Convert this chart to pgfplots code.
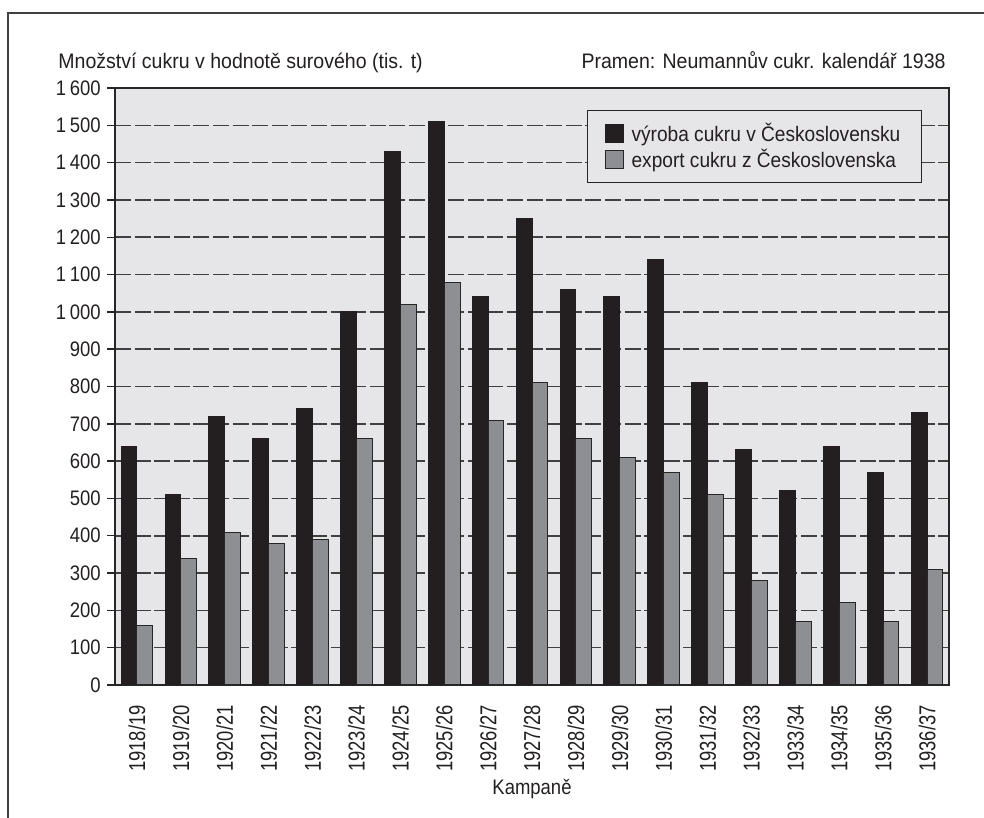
\documentclass[border=0pt]{standalone}
\usepackage{fontspec}
\setmainfont{Liberation Sans}[FakeStretch=0.88]
\newfontfamily\titlef{Liberation Sans}[FakeStretch=0.93]
\newfontfamily\narrowf{Liberation Sans}[FakeStretch=0.8]
\newfontfamily\legf{Liberation Sans}[FakeStretch=0.91]
\usepackage{pgfplots}
\pgfplotsset{compat=1.18}
\definecolor{bgg}{HTML}{E6E6E8}
\definecolor{blk}{HTML}{231F20}
\definecolor{gry}{HTML}{8E8F92}
\definecolor{txt}{HTML}{231F20}
\newcommand\ff{\fontsize{10.5pt}{12pt}\selectfont}
\begin{document}
\begin{tikzpicture}[font=\ff, text=txt]
\useasboundingbox (0,0) rectangle (492pt,409pt);
\draw[line width=0.7pt, black!75] (4pt,0) -- (4pt,402.5pt) -- (492pt,402.5pt);
\begin{axis}[
  at={(57.5pt,66.5pt)}, anchor=south west,
  scale only axis, width=417pt, height=298.5pt,
  xmin=-0.5, xmax=18.5, ymin=0, ymax=1600,
  ytick distance=100,
  xtick={0,...,18},
  xticklabels={1918/19,1919/20,1920/21,1921/22,1922/23,1923/24,1924/25,1925/26,1926/27,1927/28,1928/29,1929/30,1930/31,1931/32,1932/33,1933/34,1934/35,1935/36,1936/37},
  x tick label style={rotate=90, anchor=east, inner sep=0pt, xshift=-6pt, font=\narrowf\fontsize{11.5pt}{12pt}\selectfont},
  y tick label style={inner sep=0pt, xshift=-3pt},
  xtick style={draw=none},
  ytick pos=left, tick align=outside, major tick length=4pt,
  ytick style={line width=0.7pt, black!85},
  /pgf/number format/assume math mode=true,
  /pgf/number format/1000 sep={\,},
  axis background/.style={fill=bgg},
  axis line style={line width=0.8pt, black!85},
  ymajorgrids,
  grid style={line width=0.8pt, black!75, dash pattern=on 8pt off 1.8pt},
  ybar=0pt, bar width=0.36,
  xlabel={Kampaně},
  xlabel style={at={(0.5,0)}, anchor=base, yshift=-55pt},
  legend style={at={(1,1)}, xshift=-13.5pt, yshift=-11pt, anchor=north east,
    fill=bgg, draw=black!85, line width=0.7pt, font=\legf\ff,
    inner xsep=8.5pt, inner ysep=4pt, row sep=-1.5pt,
    /tikz/every odd column/.append style={column sep=2pt}},
  legend cell align=left,
  legend image code/.code={\draw[#1] (0pt,-4.5pt) rectangle (9pt,4.5pt);},
]
\addplot[fill=blk, draw=blk, line width=0.5pt] coordinates {
(0,640) (1,510) (2,720) (3,660) (4,740) (5,1000) (6,1430) (7,1510) (8,1040) (9,1250)
(10,1060) (11,1040) (12,1140) (13,810) (14,630) (15,520) (16,640) (17,570) (18,730)};
\addplot[fill=gry, draw=black!85, line width=0.5pt] coordinates {
(0,160) (1,340) (2,410) (3,380) (4,390) (5,660) (6,1020) (7,1080) (8,710) (9,810)
(10,660) (11,610) (12,570) (13,510) (14,280) (15,170) (16,220) (17,170) (18,310)};
\legend{výroba cukru v Československu, export cukru z Československa}
\end{axis}
\node[anchor=base west, inner sep=0pt, font=\titlef\ff] at (29pt,374.5pt) {Množství cukru v hodnotě surového (tis. t)};
\node[anchor=base east, inner sep=0pt, font=\titlef\ff] at (473pt,374.5pt) {Pramen: Neumannův cukr. kalendář 1938};
\end{tikzpicture}
\end{document}
